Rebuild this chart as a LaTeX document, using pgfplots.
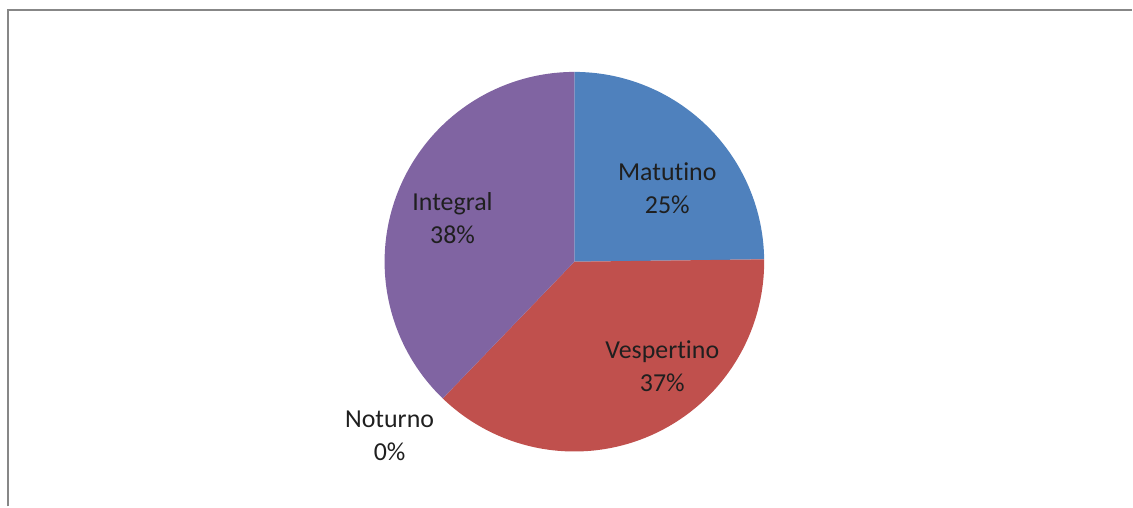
\documentclass[border=0pt]{standalone}
\usepackage{fontspec}
\setmainfont{Carlito}[Ligatures=NoCommon]
\usepackage{pgfplots}
\pgfplotsset{compat=1.18}
\definecolor{cMat}{HTML}{4F81BD}
\definecolor{cVes}{HTML}{C0504D}
\definecolor{cNot}{HTML}{9BBB59}
\definecolor{cInt}{HTML}{8064A2}
\definecolor{frame}{HTML}{878787}
% shares (percent): Matutino 24.8, Vespertino 37.4, Noturno 0.0, Integral 37.8
\begin{document}
\begin{tikzpicture}
\begin{axis}[width=1133bp,height=507bp,scale only axis,
  xmin=0,xmax=1133,ymin=0,ymax=507,hide axis,clip=false]
\path (axis cs:0,0) rectangle (axis cs:1133,507);
% Matutino 24.8%
\addplot[fill=cMat,draw=none,domain={90-3.6*24.8}:90,samples=90]
  ({575+190*cos(x)},{245+190*sin(x)}) -- (axis cs:575,245) -- cycle;
% Vespertino 37.4%
\addplot[fill=cVes,draw=none,domain={90-3.6*(24.8+37.4)}:{90-3.6*24.8},samples=120]
  ({575+190*cos(x)},{245+190*sin(x)}) -- (axis cs:575,245) -- cycle;
% Noturno 0.0% (no visible slice)
% Integral 37.8%
\addplot[fill=cInt,draw=none,domain=-270:{90-3.6*(24.8+37.4+0.0)},samples=120]
  ({575+190*cos(x)},{245+190*sin(x)}) -- (axis cs:575,245) -- cycle;
\draw[frame,line width=2.5bp] (axis cs:8,0) -- (axis cs:8,497) -- (axis cs:1133,497);
\tikzset{lbl/.style={align=center,text=black!88,font=\fontsize{26}{33}\selectfont,inner sep=0pt}}
\node[lbl] at (axis cs:668,319) {Matutino\\25\%};
\node[lbl] at (axis cs:663,140) {Vespertino\\37\%};
\node[lbl] at (axis cs:453,289) {Integral\\38\%};
\node[lbl] at (axis cs:390,71) {Noturno\\0\%};
\end{axis}
\end{tikzpicture}
\end{document}
